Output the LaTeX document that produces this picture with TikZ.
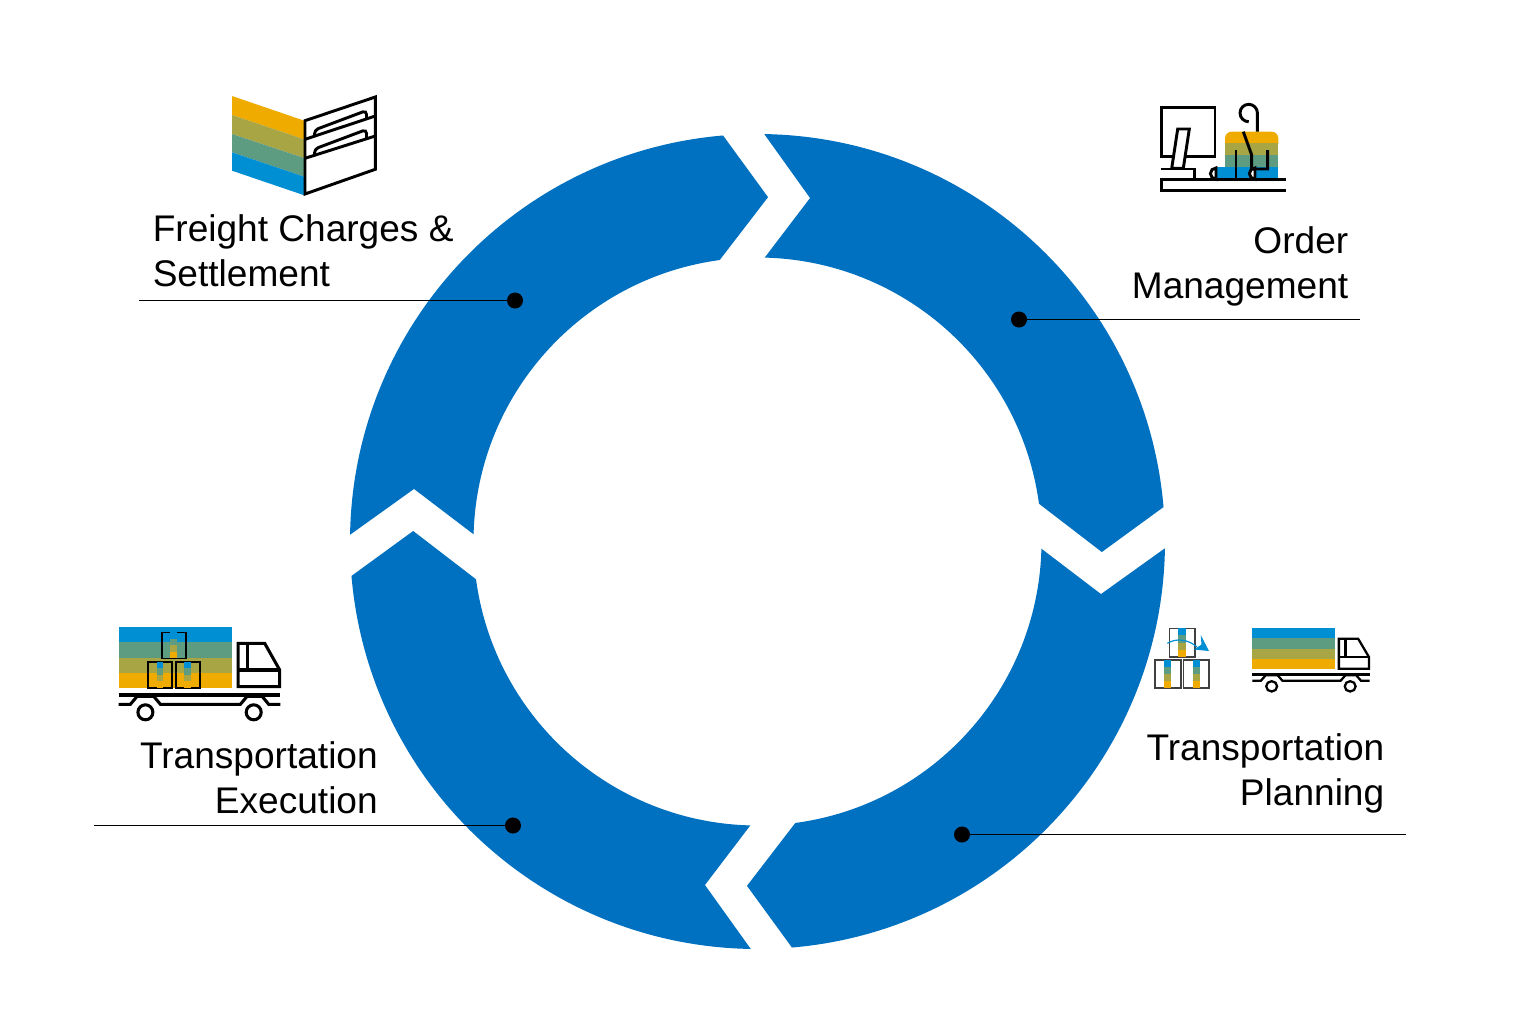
\documentclass[tikz,border=0pt]{standalone}
\usepackage{fontspec}
\setmainfont{Liberation Sans}
\definecolor{ringblue}{HTML}{0070C0}
\definecolor{bandblue}{HTML}{008FD3}
\definecolor{bandgreen}{HTML}{5E9C82}
\definecolor{bandolive}{HTML}{A8A644}
\definecolor{bandgold}{HTML}{F0AB00}
\newcommand{\stripes}[4]{
    \foreach \col [count=\i from 0] in {bandblue,bandgreen,bandolive,bandgold}
        \fill[\col] ({#1},{#2+(#4-(#2))*\i/4}) rectangle ({#3},{#2+(#4-(#2))*(\i+1)/4});
}
\tikzset{
    x=0.75pt, y=0.75pt,
    dot/.style={circle, fill=black, inner sep=0pt, minimum size=12pt},
    leader/.style={black, line width=0.6pt},
    label/.style={inner sep=0pt, font=\fontsize{27.8}{33.75}\selectfont},
    icon/.style={black, line width=2.2pt, line join=miter},
    pics/truck/.style={code={
        \stripes{0}{0}{113.4}{-60.4}
        \draw (119.4,-16) -- (146,-16) -- (161,-42.7) -- (161,-59.4) -- (119.4,-59.4) -- cycle;
        \draw (128.4,-16) -- (128.4,-42.7);
        \draw (119.4,-42.7) -- (161,-42.7);
        \draw (0,-67.7) -- (161.7,-67.7);
        \draw (0,-77) -- (11.7,-77) -- (18.4,-69) -- (35,-69) -- (41.7,-77) -- (121.7,-77)
            -- (128.4,-69) -- (143.4,-69) -- (150,-77) -- (161.7,-77);
        \draw (26.7,-85) circle (7.5);
        \draw (135,-85) circle (7.5);
    }}
}
\begin{document}
\begin{tikzpicture}
    \useasboundingbox (0,0) rectangle (1517,-1025);
    \foreach \rot in {0,-90,-180,-270}
        \fill[ringblue, shift={(757.5,-541.5)}, rotate=\rot]
            (89.05:407.5) arc[start angle=89.05, end angle=4.85, radius=407.5]
            -- (-1.75:344.5) -- (7.65:284)
            arc[start angle=7.65, end angle=88.55, radius=284]
            -- (81.3:347.5) -- cycle;

    \node[dot] (dotcharges) at (515,-300.5) {};
    \node[dot] (dotorder) at (1019,-319.5) {};
    \node[dot] (dotplanning) at (962,-834.5) {};
    \node[dot] (dotexecution) at (513,-825.5) {};
    \coordinate (endcharges) at (139,-300.5);
    \coordinate (endorder) at (1360,-319.5);
    \coordinate (endplanning) at (1405.5,-834.5);
    \coordinate (endexecution) at (93.5,-825.5);
    \draw[leader] (dotcharges) -- (endcharges);
    \draw[leader] (dotorder) -- (endorder);
    \draw[leader] (dotplanning) -- (endplanning);
    \draw[leader] (dotexecution) -- (endexecution);

    \node[label, anchor=west, align=left] (charges) at (152.5,-250.5) {Freight Charges \&\\Settlement};
    \node[label, anchor=east, align=right] (order) at (1348.5,-266) {Order\\Management};
    \node[label, anchor=east, align=right] (planning) at (1384.5,-773.5) {Transportation\\Planning};
    \node[label, anchor=east, align=right] (execution) at (378,-777.5) {Transportation\\Execution};

    \fill[bandgold] (232,-96) -- (304.3,-120.7) -- (304.3,-139.3) -- (232,-115) -- cycle;
    \fill[bandolive] (232,-115) -- (304.3,-139.3) -- (304.3,-158) -- (232,-134) -- cycle;
    \fill[bandgreen] (232,-134) -- (304.3,-158) -- (304.3,-176.7) -- (232,-152.3) -- cycle;
    \fill[bandblue] (232,-152.3) -- (304.3,-176.7) -- (304.3,-195.3) -- (232,-170.7) -- cycle;
    \draw[icon] (305,-120.7) -- (375.3,-97) -- (375.3,-169.3) -- (305,-194) -- cycle;
    \draw[icon] (305,-139.3) -- (375.3,-116);
    \draw[icon] (305,-158.3) -- (375.3,-136);
    \draw[icon, rounded corners=3pt] (314.5,-137) -- (314.5,-130) -- (366.5,-110.5) -- (366.5,-119);
    \draw[icon, rounded corners=3pt] (314.5,-156) -- (314.5,-149) -- (366.5,-129.5) -- (366.5,-138);

    \fill[bandblue] (1216,-166.7) rectangle (1278.3,-179.3);
    \fill[bandgreen] (1225,-155) rectangle (1278.3,-166.7);
    \fill[bandgold, rounded corners=5pt] (1225,-150) -- (1225,-131.7) -- (1278.3,-131.7) -- (1278.3,-150) -- cycle;
    \fill[bandolive] (1225,-143.3) rectangle (1278.3,-155);
    \draw[icon] (1161.7,-107.8) rectangle (1215,-156.7);
    \draw[icon, fill=white] (1177.7,-129) -- (1189.3,-129) -- (1183.3,-168.3) -- (1171.7,-168.3) -- cycle;
    \draw[icon] (1160.7,-169) -- (1194.3,-169) -- (1194.3,-179.3);
    \draw[icon] (1285.7,-179.3) -- (1161.7,-179.3) -- (1161.7,-190.7) -- (1285.7,-190.7);
    \draw[icon, fill=white] (1216,-168) arc[start angle=90, end angle=270, radius=5.6] -- cycle;
    \draw[icon, fill=white] (1255,-168) arc[start angle=90, end angle=270, radius=5.6] -- cycle;
    \draw[icon] (1248.7,-121.7) arc[start angle=270, end angle=0, radius=8.7] -- (1257.4,-131.7);
    \draw[icon] (1243.3,-131.7) -- (1251.7,-155) -- (1251.7,-169) -- (1267.7,-169) -- (1267.7,-150);
    \draw[icon] (1236,-150) -- (1236,-179.3);

    \pic[icon, line width=2.3pt] (truckexecution) at (118.7,-627.3) {truck};
    \draw[black, line width=1.2pt] (161.7,-632.3) rectangle (185.7,-658.3);
    \draw[black, line width=1.2pt] (147.7,-661.7) rectangle (171.7,-687.7);
    \draw[black, line width=1.2pt] (175.7,-661.7) rectangle (199.7,-687.7);
    \stripes{170}{-632.3}{177.3}{-658.3}
    \stripes{156.7}{-661.7}{163.3}{-687.7}
    \stripes{184.3}{-661.7}{191}{-687.7}

    \pic[icon, line width=1.7pt, xscale=0.725, yscale=0.69] (truckplanning) at (1252.3,-627.7) {truck};
    \draw[black!75, line width=1.2pt] (1169.3,-628.3) rectangle (1195,-656.7);
    \draw[black!75, line width=1.2pt] (1155,-660) rectangle (1180.7,-687.7);
    \draw[black!75, line width=1.2pt] (1183.3,-660) rectangle (1209,-687.7);
    \stripes{1178.3}{-628.3}{1185.7}{-656.7}
    \stripes{1164}{-660}{1171}{-687.7}
    \stripes{1192.7}{-660}{1200}{-687.7}
    \draw[bandblue, line width=0.9pt] (1167.3,-643.3) .. controls (1176,-638) and (1188,-639) .. (1197,-647);
    \fill[bandblue] (1200.7,-635) -- (1209,-651) -- (1194,-649.5) -- (1201.5,-644.5) -- cycle;
\end{tikzpicture}
\end{document}
